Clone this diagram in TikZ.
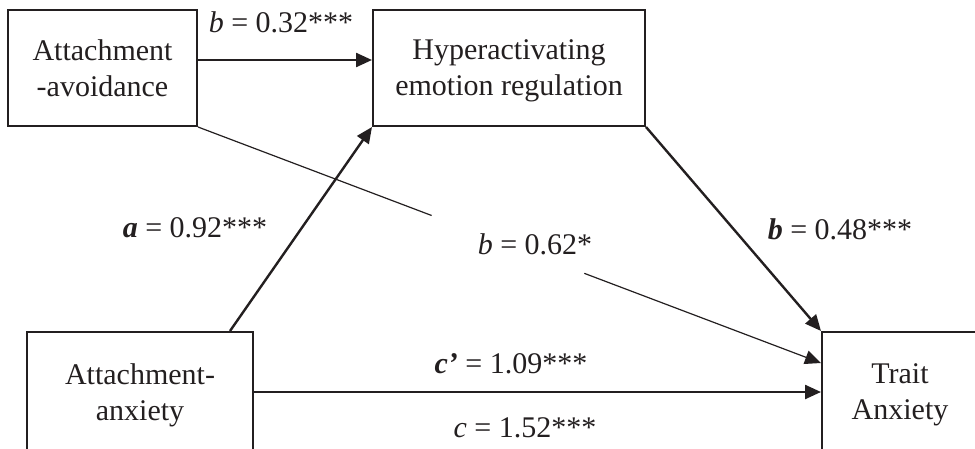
\documentclass[tikz,border=0pt]{standalone}
\usepackage{fontspec}
\setmainfont{Liberation Serif}
\usetikzlibrary{arrows.meta,calc}
\definecolor{ink}{RGB}{35,31,32}
\begin{document}
\begin{tikzpicture}[x=0.5pt,y=-0.5pt,
  box/.style={draw=ink, line width=1pt, align=center, inner sep=0pt,
    font=\fontsize{15}{18}\selectfont, text=ink, text depth=0pt},
  lbl/.style={font=\fontsize{15}{18}\selectfont, text=ink, inner sep=0pt, anchor=base},
  arr/.style={draw=ink, line width=1.2pt, -{Triangle[length=8pt,width=7pt]}},
  thinline/.style={draw=ink, line width=0.6pt},
  thinarr/.style={thinline, -{Triangle[length=8pt,width=7pt]}}]
\clip (0,0) rectangle (975,449);
\node[box, minimum width=94.5pt, minimum height=58pt] (avoid) at (102.5,68) {Attachment\\-avoidance};
\node[box, minimum width=136pt, minimum height=58pt] (hyper) at (509,68) {Hyperactivating\\emotion regulation};
\node[box, minimum width=113pt, minimum height=60pt] (anx) at (140,392) {Attachment-\\anxiety};
\node[box, minimum width=78pt, minimum height=60pt] (trait) at (900,392) {Trait\\Anxiety};
\coordinate (tend) at ($(trait.west)+(0,-29)$);
\coordinate (g1) at ($(avoid.south east)!0.375!(tend)$);
\coordinate (g2) at ($(avoid.south east)!0.62!(tend)$);
\draw[arr] ($(avoid.east)+(0,-8)$) -- ($(hyper.west)+(0,-8)$);
\draw[arr] ($(anx.north east)+(-24,0)$) -- (hyper.south west);
\draw[arr] (hyper.south east) -- (trait.north west);
\draw[thinline] (avoid.south east) -- (g1);
\draw[thinarr] (g2) -- (tend);
\draw[arr] (anx.east) -- (trait.west);
\node[lbl] (lb1) at (281,33) {\textit{b} = 0.32***};
\node[lbl] (la) at (195,237) {\textbf{\textit{a}} = 0.92***};
\node[lbl] (lb2) at (535,254) {\textit{b} = 0.62*};
\node[lbl] (lb3) at (840,239) {\textbf{\textit{b}} = 0.48***};
\node[lbl] (lc1) at (511,373) {\textbf{\textit{c’}} = 1.09***};
\node[lbl] (lc) at (525,437) {\textit{c} = 1.52***};
\end{tikzpicture}
\end{document}
